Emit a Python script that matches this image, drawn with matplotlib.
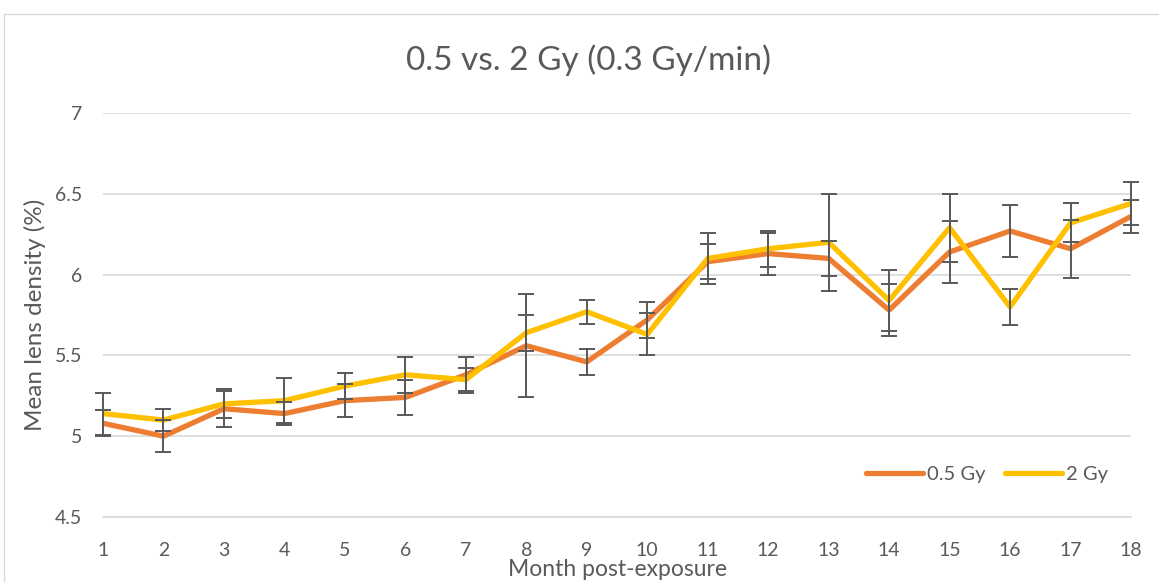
import matplotlib
matplotlib.use("Agg")
import matplotlib.pyplot as plt
from matplotlib.patches import Rectangle

months = list(range(1, 19))
dose_05 = [5.08, 5.00, 5.17, 5.14, 5.22, 5.24, 5.38, 5.56, 5.46, 5.72, 6.08, 6.13, 6.10, 5.78, 6.14, 6.27, 6.16, 6.36]
err_05 = [0.08, 0.10, 0.11, 0.07, 0.10, 0.11, 0.11, 0.32, 0.08, 0.11, 0.11, 0.13, 0.11, 0.16, 0.19, 0.16, 0.18, 0.10]
dose_2 = [5.14, 5.10, 5.20, 5.22, 5.31, 5.38, 5.35, 5.64, 5.77, 5.63, 6.10, 6.16, 6.20, 5.84, 6.29, 5.80, 6.32, 6.44]
err_2 = [0.13, 0.07, 0.09, 0.14, 0.08, 0.11, 0.07, 0.11, 0.075, 0.13, 0.16, 0.11, 0.30, 0.19, 0.21, 0.11, 0.12, 0.13]
y_ticks = [4.5, 5, 5.5, 6, 6.5, 7]
y_tick_labels = ["4.5", "5", "5.5", "6", "6.5", "7"]

plt.rcParams['font.family'] = ['Lato', 'DejaVu Sans']
text_color = "#595959"
grid_color = "#d9d9d9"

fig = plt.figure(figsize=(11.59, 5.82), dpi=100)
W, H = 1159, 582
# chart border
fig.patches.append(Rectangle((4 / W, -0.1), 1.2, (H - 14) / H + 0.1, transform=fig.transFigure,
                             fill=False, edgecolor=grid_color, linewidth=1.0))

ax = fig.add_axes([103 / W, (H - 517) / H, (1131 - 103) / W, (517 - 113) / H])
ax.set_xlim(1, 18)
ax.set_ylim(4.5, 7)
ax.set_yticks(y_ticks)
ax.set_yticklabels(y_tick_labels)
ax.set_xticks(months)
ax.set_xticklabels([str(m) for m in months])
ax.grid(axis='y', color=grid_color, linewidth=1.2)
ax.set_axisbelow(True)
for s in ['top', 'right', 'left']:
    ax.spines[s].set_visible(False)
ax.spines['bottom'].set_color(grid_color)
ax.spines['bottom'].set_linewidth(1.2)
ax.tick_params(axis='both', length=0, labelsize=14, colors=text_color)
ax.tick_params(axis='x', pad=18)
ax.tick_params(axis='y', pad=15)

l1, = ax.plot(months, dose_05, color="#ED7D31", linewidth=3.8, label="0.5 Gy", zorder=3,
              solid_capstyle='round', solid_joinstyle='round')
l2, = ax.plot(months, dose_2, color="#FFC000", linewidth=3.8, label="2 Gy", zorder=4,
              solid_capstyle='round', solid_joinstyle='round')
ax.errorbar(months, dose_05, yerr=err_05, fmt='none', ecolor="#595959", elinewidth=1.4,
            capsize=6, capthick=1.4, zorder=5, clip_on=False)
ax.errorbar(months, dose_2, yerr=err_2, fmt='none', ecolor="#595959", elinewidth=1.4,
            capsize=6, capthick=1.4, zorder=5, clip_on=False)

ax.set_xlabel("Month post-exposure", fontsize=16.5, color=text_color, labelpad=0)
ax.set_ylabel("Mean lens density (%)", fontsize=17.5, color=text_color, labelpad=6)
fig.text(589 / W, 1 - 60 / H, "0.5 vs. 2 Gy (0.3 Gy/min)", ha='center', va='center',
         fontsize=24, color=text_color)

leg = ax.legend(handles=[l1, l2], loc='center', bbox_to_anchor=((987 - 103) / (1131 - 103), (517 - 474) / (517 - 113)),
                ncol=2, frameon=False, fontsize=14.5, handlelength=2.8, handletextpad=0.2,
                columnspacing=1.0)
for t in leg.get_texts():
    t.set_color(text_color)

fig.savefig("out.png", dpi=100)
